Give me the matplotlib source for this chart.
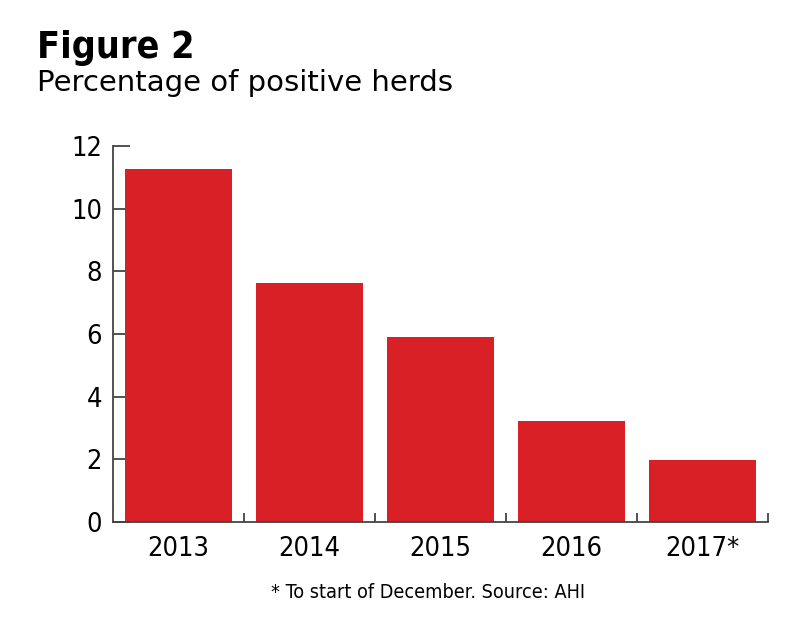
import matplotlib
matplotlib.use("Agg")
import matplotlib.pyplot as plt
from matplotlib import font_manager

# ── data ─────────────────────────────────────────────
years = ["2013", "2014", "2015", "2016", "2017*"]
pct_positive = [11.27, 7.63, 5.90, 3.22, 1.98]
y_ticks = [0, 2, 4, 6, 8, 10, 12]

BAR_RED = "#D92027"
AXIS_GREY = "#444444"

# condensed face stands in for the narrow DIN-style font of the original
cond = font_manager.FontProperties(family="DejaVu Sans", stretch="condensed", size=19.5)

# ── figure ───────────────────────────────────────────
fig = plt.figure(figsize=(7.9, 6.23), dpi=100)
ax = fig.add_axes([113 / 790, 1 - 522 / 623, 655 / 790, 376 / 623])

x = list(range(len(years)))
ax.bar(x, pct_positive, width=0.81, color=BAR_RED, zorder=2)

ax.set_xlim(-0.5, len(years) - 0.5)
ax.set_ylim(0, 12)

for side in ["top", "right"]:
    ax.spines[side].set_visible(False)
for side in ["left", "bottom"]:
    ax.spines[side].set_color(AXIS_GREY)
    ax.spines[side].set_linewidth(1.3)

# y ticks point inward
ax.set_yticks(y_ticks)
ax.set_yticklabels([str(v) for v in y_ticks], fontproperties=cond)
ax.tick_params(axis="y", direction="in", length=12, width=1.3, color=AXIS_GREY, pad=8)

# x labels under bars, ticks at category boundaries
ax.set_xticks(x)
ax.set_xticklabels(years, fontproperties=cond)
ax.tick_params(axis="x", which="major", length=0, pad=10)
ax.set_xticks([i + 0.5 for i in x], minor=True)
ax.tick_params(axis="x", which="minor", direction="in", length=6.5, width=1.3, color=AXIS_GREY)

# ── titles & footnote ────────────────────────────────
fig.text(37 / 790, 1 - 58 / 623, "Figure 2", fontsize=27, fontweight="bold",
         family="DejaVu Sans", stretch="condensed", va="baseline")
fig.text(37 / 790, 1 - 91 / 623, "Percentage of positive herds", fontsize=21,
         family="DejaVu Sans", va="baseline")
fig.text(428 / 790, 1 - 598 / 623, "* To start of December. Source: AHI", fontsize=14.2,
         family="DejaVu Sans", stretch="condensed", ha="center", va="baseline")

plt.savefig("out.png", dpi=100)
